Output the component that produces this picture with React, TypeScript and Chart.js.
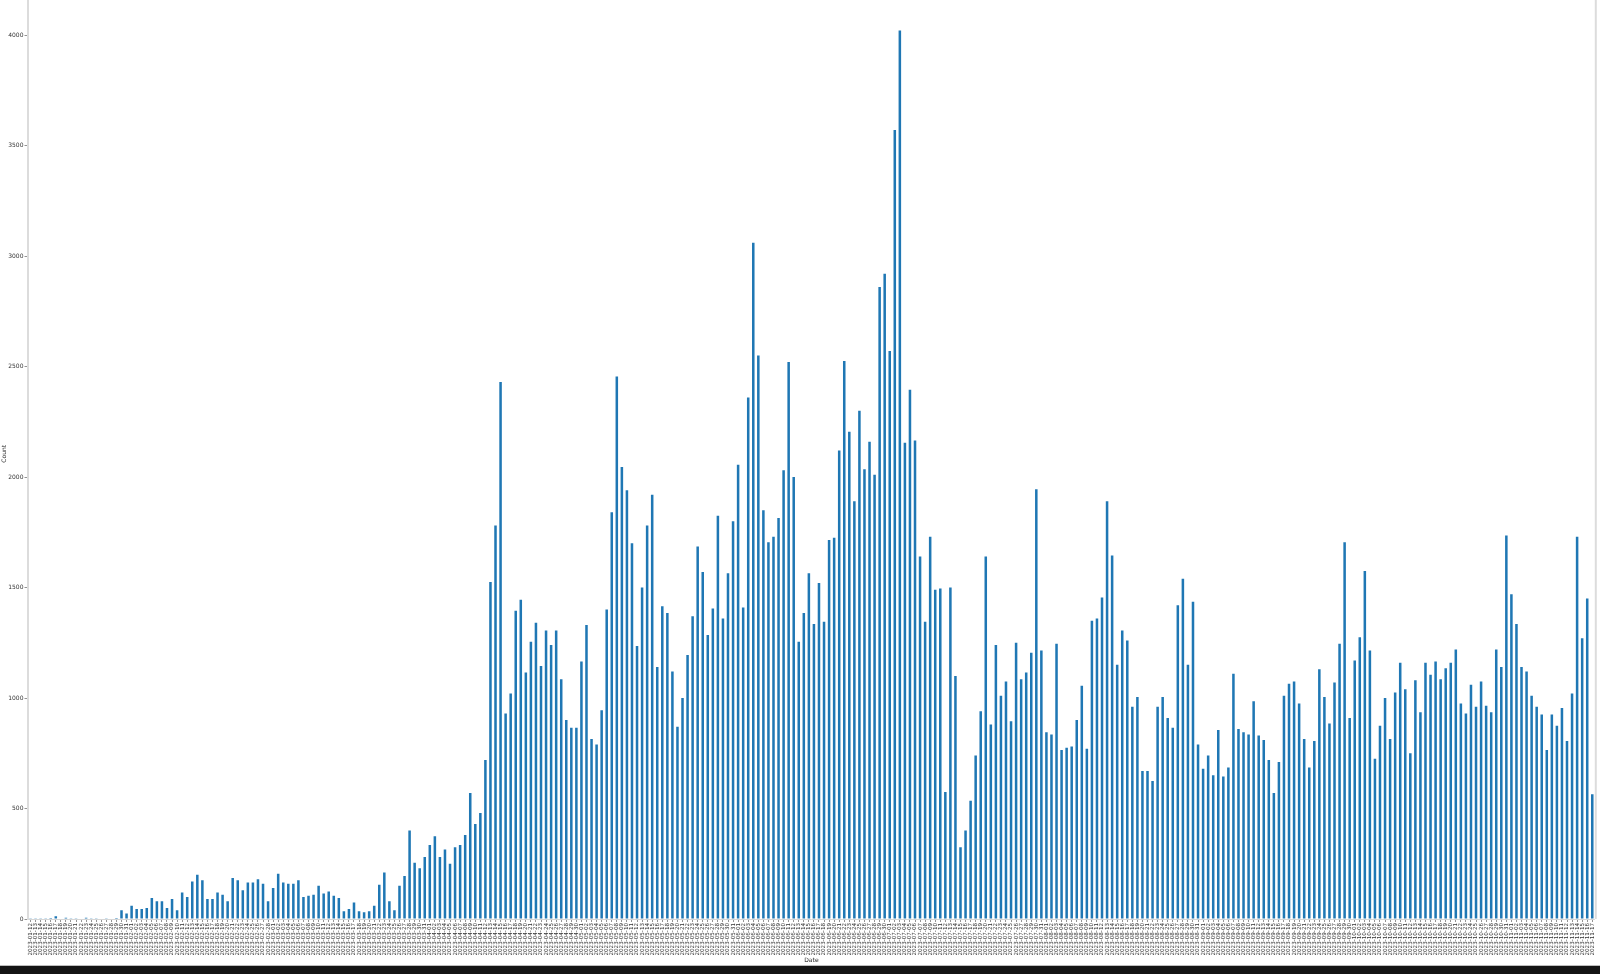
import React, { useEffect, useRef } from "react";
import { Chart, registerables } from "chart.js";

Chart.register(...registerables);

const START_DATE = "2023-01-12";

const counts: number[] = [
  1, 1, 1, 1, 5, 12, 2, 6, 1, 1, 2, 6, 1, 1, 2, 3, 2, 4,
  40, 25, 60, 45, 45, 50, 95, 80, 80, 50, 90, 40, 120, 100, 170, 200, 175, 90, 90, 120, 110, 80,
  185, 175, 130, 165, 165, 180, 160, 80, 140, 205, 165, 160, 160, 175, 100, 105, 110, 150, 115, 125,
  105, 95, 35, 45, 75, 35, 30, 35, 60, 155, 210, 80, 40, 150, 195, 400, 255, 230, 280, 335,
  375, 280, 315, 250, 325, 335, 380, 570, 430, 480, 720, 1525, 1780, 2430,
  930, 1020, 1395, 1445, 1115, 1255, 1340, 1145, 1305, 1240, 1305, 1085, 900, 865, 865, 1165,
  1330, 815, 790, 945, 1400, 1840, 2455,
  2045, 1940, 1700, 1235, 1500, 1780, 1920, 1140, 1415, 1385, 1120, 870, 1000, 1195, 1370, 1685,
  1570, 1285, 1405, 1825, 1360, 1565, 1800, 2055, 1410, 2360, 3060,
  2550, 1850, 1705, 1730, 1815, 2030, 2520, 2000, 1255, 1385, 1565, 1335, 1520, 1345, 1715, 1725,
  2120, 2525, 2205, 1890, 2300, 2035, 2160, 2010, 2860, 2920, 2570, 3570, 4020,
  2155, 2395, 2165, 1640, 1345, 1730, 1490, 1495, 575, 1500, 1100, 325, 400, 535, 740, 940,
  1640, 880, 1240, 1010, 1075, 895, 1250, 1085, 1115, 1205, 1945,
  1215, 845, 835, 1245, 765, 775, 780, 900, 1055, 770, 1350, 1360, 1455, 1890,
  1645, 1150, 1305, 1260, 960, 1005, 670, 670, 625, 960, 1005, 910, 865, 1420, 1540, 1150,
  1435, 790, 680, 740, 650, 855, 645, 685, 1110, 860, 845, 835, 985, 830, 810, 720,
  570, 710, 1010, 1065, 1075, 975, 815, 685, 805, 1130, 1005, 885, 1070, 1245, 1705,
  910, 1170, 1275, 1575, 1215, 725, 875, 1000, 815, 1025, 1160, 1040, 750, 1080, 935, 1160,
  1105, 1165, 1085, 1135, 1160, 1220, 975, 930, 1060, 960, 1075, 965, 935, 1220, 1140, 1735,
  1470, 1335, 1140, 1120, 1010, 960, 925, 765, 925, 875, 955, 805, 1020, 1730, 1270, 1450, 565,
];

function buildDateLabels(start: string, n: number): string[] {
  const out: string[] = [];
  const d = new Date(start + "T00:00:00Z");
  for (let i = 0; i < n; i++) {
    out.push(d.toISOString().slice(0, 10));
    d.setUTCDate(d.getUTCDate() + 1);
  }
  return out;
}

const dateLabels: string[] = buildDateLabels(START_DATE, counts.length);
const yTickValues: number[] = [0, 500, 1000, 1500, 2000, 2500, 3000, 3500, 4000];

const FONT = "'DejaVu Sans', sans-serif";

const rightSpine = {
  id: "rightSpine",
  afterDraw(chart: any) {
    const { ctx, chartArea } = chart;
    ctx.save();
    ctx.strokeStyle = "#dcdcdc";
    ctx.lineWidth = 2;
    ctx.beginPath();
    ctx.moveTo(chartArea.right + 1, chartArea.top);
    ctx.lineTo(chartArea.right + 1, chartArea.bottom);
    ctx.stroke();
    ctx.restore();
  },
};

export default function App() {
  const ref = useRef<HTMLCanvasElement | null>(null);

  useEffect(() => {
    document.body.style.margin = "0";
    const canvas = ref.current;
    if (!canvas) return;
    const chart = new Chart(canvas, {
      type: "bar",
      data: {
        labels: dateLabels,
        datasets: [
          {
            label: "Count",
            data: counts,
            backgroundColor: "#1f77b4",
            barPercentage: 0.5,
            categoryPercentage: 1.0,
          },
        ],
      },
      options: {
        animation: false,
        responsive: false,
        maintainAspectRatio: false,
        layout: { padding: { top: 0, right: 5, bottom: 0, left: 0 } },
        plugins: {
          legend: { display: false },
          tooltip: { enabled: false },
        },
        scales: {
          x: {
            type: "category",
            offset: true,
            grid: {
              offset: false,
              drawOnChartArea: false,
              drawTicks: true,
              tickLength: 3,
              color: "#777",
              lineWidth: 0.8,
            },
            border: { display: true, color: "#d6d6d6", width: 1 },
            ticks: {
              autoSkip: false,
              maxRotation: 90,
              minRotation: 90,
              padding: 1,
              color: "#333",
              font: { family: FONT, size: 5.6 },
            },
            title: {
              display: true,
              text: "Date",
              color: "#222",
              font: { family: FONT, size: 6 },
              padding: { top: 0, bottom: 1 },
            },
            afterFit(scale: any) {
              scale.height = 46;
            },
          },
          y: {
            type: "linear",
            min: 0,
            max: 4210,
            grid: {
              drawOnChartArea: false,
              drawTicks: true,
              tickLength: 3.5,
              color: "#777",
              lineWidth: 0.8,
            },
            border: { display: true, color: "#dcdcdc", width: 2 },
            ticks: {
              stepSize: 500,
              padding: 1,
              color: "#333",
              font: { family: FONT, size: 6 },
              callback: (v: any) => String(v),
            },
            afterBuildTicks(scale: any) {
              scale.ticks = yTickValues.map((v) => ({ value: v }));
            },
            title: {
              display: true,
              text: "Count",
              color: "#222",
              font: { family: FONT, size: 6 },
              padding: { top: 1, bottom: 0 },
            },
            afterFit(scale: any) {
              scale.width = 28;
            },
          },
        },
      },
      plugins: [rightSpine],
    });
    return () => chart.destroy();
  }, []);

  return (
    <div style={{ position: "fixed", left: 0, top: 0, width: 1600, height: 974, overflow: "hidden", background: "#fff" }}>
      <canvas
        ref={ref}
        width={1600}
        height={981}
        style={{ position: "absolute", left: 0, top: -16, width: 1600, height: 981 }}
      />
      <div style={{ position: "absolute", left: 0, top: 965, width: 1600, height: 1, background: "#bdbdbd" }} />
      <div style={{ position: "absolute", left: 0, top: 966, width: 1600, height: 8, background: "#141414" }} />
    </div>
  );
}
